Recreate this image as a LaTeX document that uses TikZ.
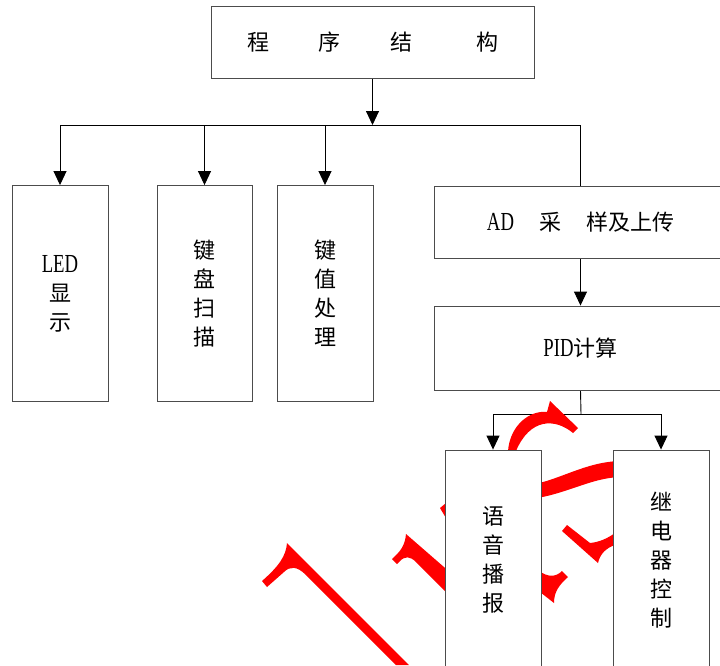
\documentclass[tikz,border=0pt]{standalone}
\usepackage{fontspec}
\setmainfont{Noto Sans CJK SC}
\newfontfamily\latn[FakeStretch=0.72]{Liberation Serif}
\newcommand{\lat}[1]{{\latn\fontsize{26}{29}\selectfont #1}}
\usetikzlibrary{arrows.meta,backgrounds}
\begin{document}
\begin{tikzpicture}[x=1pt,y=-1pt,
  box/.style={draw=black!70, line width=0.9pt, fill=white, inner sep=0pt, align=center,
              font=\fontsize{22}{29}\selectfont},
  conn/.style={draw=black, line width=0.9pt},
  arr/.style={conn, -{Triangle[width=13pt,length=14pt]}},
  wm/.style={fill=red}]
\useasboundingbox (0,0) rectangle (720,665);
% boxes
\node[box, minimum width=323pt, minimum height=72pt] (top) at (372.5,42)
  {程\hspace{50pt}序\hspace{50pt}结\hspace{63pt}构};
\node[box, minimum width=96pt, minimum height=216pt] (led) at (60,293.5)
  {\lat{LED}\\显\\示};
\node[box, minimum width=95pt, minimum height=216pt] (kbs) at (204.5,293.5)
  {键\\盘\\扫\\描};
\node[box, minimum width=96pt, minimum height=216pt] (kvp) at (325,293.5)
  {键\\值\\处\\理};
\node[box, minimum width=293pt, minimum height=72pt] (ad) at (580.5,222)
  {\lat{AD}\hspace{25pt}采\hspace{25pt}样及上传};
\node[box, minimum width=293pt, minimum height=84pt] (pid) at (580.5,348)
  {\lat{PID}计算};
\node[box, minimum width=96pt, minimum height=220pt] (voice) at (493,560)
  {语\\音\\播\\报};
\node[box, minimum width=96pt, minimum height=220pt] (relay) at (661,560)
  {继\\电\\器\\控\\制};
\coordinate (bus) at (372.5,125);
\coordinate (bus2) at (581,414);
\begin{scope}[on background layer]
  % connectors
  \draw[arr] (top.south) -- (bus);
  \draw[conn] (led.north |- bus) -- (ad.north |- bus);
  \draw[arr] (led.north |- bus) -- (led.north);
  \draw[arr] (kbs.north |- bus) -- (kbs.north);
  \draw[arr] (kvp.north |- bus) -- (kvp.north);
  \draw[conn] (ad.north |- bus) -- (ad.north);
  \draw[arr] (ad.south) -- (pid.north);
  \draw[conn] (pid.south) -- (bus2);
  \draw[conn] (voice.north |- bus2) -- (relay.north |- bus2);
  \draw[arr] (voice.north |- bus2) -- (voice.north);
  \draw[arr] (relay.north |- bus2) -- (relay.north);
  % red watermark strokes
  \fill[wm] (287,543) -- (409,665) -- (396,665) -- (306,575)
    .. controls (297,566) and (290,566) .. (284,572) -- (267,587) -- (262,581)
    .. controls (279,566) and (286,556) .. (287,543) -- cycle;
  \fill[wm] (406,534) -- (452,574) -- (452,598) -- (416,562)
    .. controls (410,556) and (405,556) .. (400,561) -- (397,564) -- (392,559)
    .. controls (401,551) and (405,545) .. (406,534) -- cycle;
  \fill[wm] (440,508) -- (446,503) -- (446,518) -- cycle;
  \fill[wm] (508,451) .. controls (510,425) and (530,410) .. (547,412) -- (550,401)
    -- (578,428) -- (573,433) .. controls (555,418) and (530,418) .. (516,451) -- cycle;
  \fill[wm] (530,485) .. controls (560,480) and (585,462) .. (620,461) -- (620,477)
    .. controls (590,478) and (565,495) .. (530,499) -- cycle;
  \fill[wm] (562,531) -- (567,525) -- (590,543) .. controls (600,542) and (608,538) .. (615,533)
    -- (615,545) .. controls (606,548) and (600,554) .. (598,563) -- cycle;
  \fill[wm] (538,570) .. controls (548,578) and (556,577) .. (562,571) -- (568,577)
    .. controls (559,585) and (554,592) .. (554,603) -- (540,592) -- cycle;
\end{scope}
\end{tikzpicture}
\end{document}
